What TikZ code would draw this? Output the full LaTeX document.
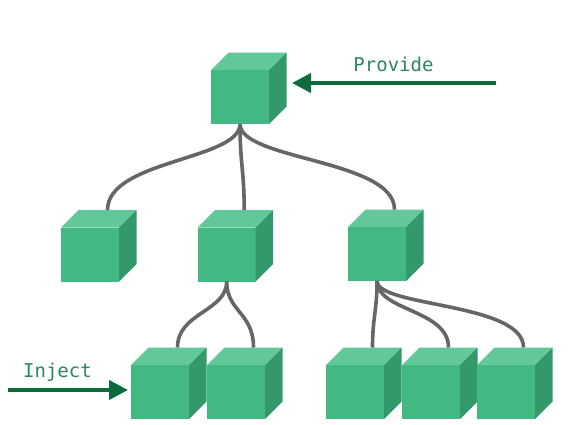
\documentclass[tikz,border=0pt]{standalone}
\usepackage{fontspec}
\newfontfamily\labelfont{DejaVu Sans Mono}
\usetikzlibrary{arrows.meta,calc}
\definecolor{cfront}{HTML}{42B883}
\definecolor{ctop}{HTML}{62C89A}
\definecolor{cright}{HTML}{33996A}
\definecolor{carrow}{HTML}{0B6B3D}
\definecolor{ctext}{HTML}{2E8562}
\definecolor{cline}{HTML}{666666}
\newcommand\dd{17.5}
\newcommand\cubeat[3]{%
  \node[cubefront] (#1) at (#2,#3) {};
  \fill[ctop] (#1.north west) -- ++(\dd,-\dd) -- ([shift={(\dd,-\dd)}]#1.north east) -- (#1.north east) -- cycle;
  \fill[cright] (#1.north east) -- ++(\dd,-\dd) -- ([shift={(\dd,-\dd)}]#1.south east) -- (#1.south east) -- cycle;
  \coordinate (#1-in) at ([shift={(\dd,-\dd)}]#1.north);
}
\tikzset{
  cubefront/.style={rectangle, fill=cfront, minimum width=58pt, minimum height=54pt, inner sep=0pt, outer sep=0pt},
  link/.style={draw=cline, line width=3.6pt},
  bigarrow/.style={draw=carrow, line width=4pt, -{Triangle[length=19pt,width=19pt]}},
  lbl/.style={text=ctext, font=\labelfont\fontsize{19}{22}\selectfont, anchor=base, inner sep=0pt}
}
\begin{document}
\begin{tikzpicture}[x=1pt,y=-1pt]
\useasboundingbox (0,0) rectangle (578,424);
% cubes
\cubeat{top}{240}{97}
\cubeat{ma}{90}{254.5}
\cubeat{mb}{226.7}{254.5}
\cubeat{mc}{377}{254}
\cubeat{ba}{160}{392}
\cubeat{bb}{236}{392}
\cubeat{bc}{355}{392}
\cubeat{bd}{431}{392}
\cubeat{be}{506}{392}
% connectors
\draw[link] (top.south) .. controls ($(top.south)+(0,36)$) and ($(ma-in)+(0,-50)$) .. (ma-in);
\draw[link] (top.south) .. controls ($(top.south)+(0,40)$) and ($(mb-in)+(0,-40)$) .. (mb-in);
\draw[link] (top.south) .. controls ($(top.south)+(0,36)$) and ($(mc-in)+(0,-50)$) .. (mc-in);
\draw[link] (mb.south) .. controls ($(mb.south)+(0,30)$) and ($(ba-in)+(0,-35)$) .. (ba-in);
\draw[link] (mb.south) .. controls ($(mb.south)+(0,30)$) and ($(bb-in)+(0,-35)$) .. (bb-in);
\draw[link] (mc.south) .. controls ($(mc.south)+(0,30)$) and ($(bc-in)+(0,-30)$) .. (bc-in);
\draw[link] (mc.south) .. controls ($(mc.south)+(0,30)$) and ($(bd-in)+(0,-38)$) .. (bd-in);
\draw[link] (mc.south) .. controls ($(mc.south)+(0,26)$) and ($(be-in)+(0,-45)$) .. (be-in);
% arrows
\coordinate (pfrom) at (496,83);
\coordinate (pto) at ($(top.east)+(23,-14)$);
\draw[bigarrow] (pfrom) -- (pto |- pfrom);
\coordinate (ifrom) at (8,390);
\coordinate (ito) at ($(ba.west)+(-3,-2)$);
\draw[bigarrow] (ifrom) -- (ito);
% labels
\node[lbl] (provide) at (393.5,71.5) {Provide};
\node[lbl] (inject) at (57.5,377) {Inject};
\end{tikzpicture}
\end{document}
